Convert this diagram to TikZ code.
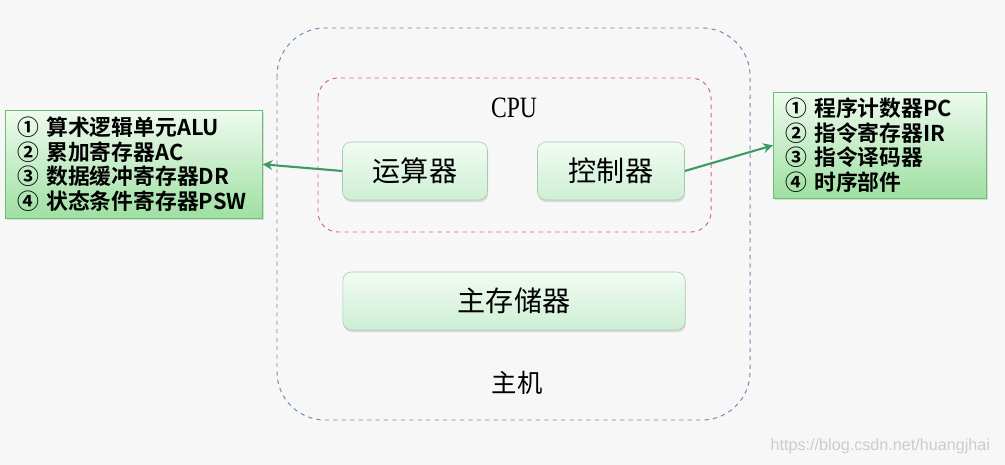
\documentclass[tikz,border=0pt]{standalone}
\usepackage{fontspec}
\setmainfont{Liberation Serif}
\newfontfamily\cjk{Noto Sans CJK SC}
\newfontfamily\cjkb{Noto Sans CJK SC}[BoldFont={* Bold}]
\newfontfamily\marksans{Liberation Sans}
\usepackage{tikz}
\usetikzlibrary{arrows.meta,positioning,shadows}
\definecolor{bgpage}{HTML}{F7F7F7}
\definecolor{hostline}{HTML}{6A8FB0}
\definecolor{cpuline}{HTML}{D46A6A}
\definecolor{unittop}{HTML}{F2FBF3}
\definecolor{unitbot}{HTML}{CDEFD4}
\definecolor{unitline}{HTML}{A8C8B0}
\definecolor{listtop}{HTML}{EEFAEE}
\definecolor{listbot}{HTML}{9EE0A2}
\definecolor{listline}{HTML}{6DBE72}
\definecolor{arrowgreen}{HTML}{3C9C62}

\tikzset{
  unit/.style={draw=unitline,rounded corners=6pt,top color=unittop,bottom color=unitbot,
               drop shadow={opacity=0.25,shadow xshift=0.5pt,shadow yshift=-1.5pt},
               minimum height=1.45cm,font=\cjk\fontsize{20}{24}\selectfont},
  listbox/.style={draw=listline,top color=listtop,bottom color=listbot,
                  drop shadow={opacity=0.25,shadow xshift=1pt,shadow yshift=-1.5pt},
                  align=left,anchor=north west,inner xsep=0.3cm,
                  font=\cjkb\bfseries\fontsize{15.5}{17.5}\selectfont},
  link/.style={arrowgreen,line width=1.5pt,-{Stealth[length=7pt,width=7pt]}}
}

\begin{document}
\begin{tikzpicture}[x=0.025cm,y=-0.025cm]
  % Page
  \fill[bgpage] (0,0) rectangle (1005,465);
  \useasboundingbox (0,0) rectangle (1005,465);
  % Host and CPU frames
  \draw[hostline,dashed,line width=0.7pt,rounded corners=1.2cm] (277,28) rectangle (750,420);
  \draw[cpuline,dashed,line width=0.7pt,rounded corners=0.5cm] (318,78) rectangle (711,232);
  \node[font=\fontsize{21}{24}\selectfont] (cpulabel) at (514,108) {\scalebox{0.8}[1]{CPU}};
  \node[font=\cjk\fontsize{18}{20}\selectfont] (hostlabel) at (517,383) {主机};
  % Units
  \node[unit,minimum width=3.625cm] (alu) at (415,171) {运算器};
  \node[unit,minimum width=3.675cm] (ctrl) at (611,171) {控制器};
  \node[unit,minimum width=8.55cm] (mem) at (514,301) {主存储器};
  % Lists
  \node[listbox,text width=5.825cm,minimum height=2.7cm] (alulist) at (5,110)
    {① 算术逻辑单元ALU\\② 累加寄存器AC\\③ 数据缓冲寄存器DR\\④ 状态条件寄存器PSW};
  \node[listbox,text width=4.725cm,minimum height=2.65cm] (ctrllist) at (773,92)
    {① 程序计数器PC\\② 指令寄存器IR\\③ 指令译码器\\④ 时序部件};
  % Links
  \draw[link] (alu.west) -- (alulist.east);
  \draw[link] (ctrl.east) -- (ctrllist.west);
  % Watermark
  \node[gray!40,font=\marksans\fontsize{11.5}{14}\selectfont,anchor=east] (mark) at (995,446)
    {https://blog.csdn.net/huangjhai};
\end{tikzpicture}
\end{document}
